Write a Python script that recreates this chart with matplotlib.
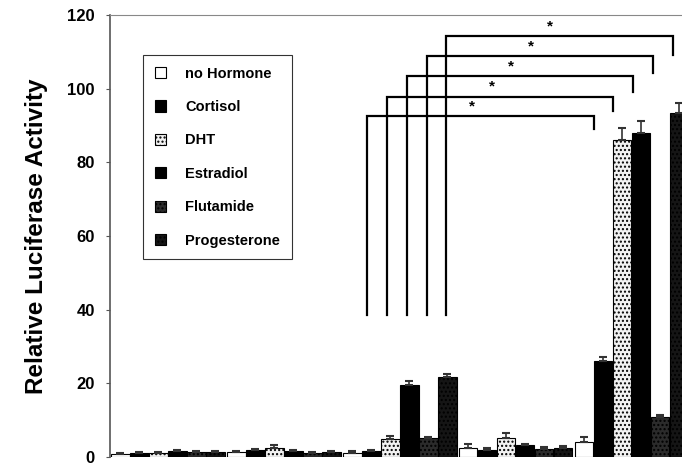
import matplotlib
matplotlib.use("Agg")
import matplotlib.pyplot as plt
import numpy as np

plt.rcParams['font.family'] = ['Liberation Sans', 'DejaVu Sans']

treatments = ["no Hormone", "Cortisol", "DHT", "Estradiol", "Flutamide", "Progesterone"]
# values per group (5 groups), per treatment
values = [
    [0.8, 1.2, 1.1, 1.7, 1.4, 1.3],
    [1.3, 1.9, 2.4, 1.5, 1.2, 1.4],
    [1.2, 1.5, 4.9, 19.5, 5.1, 21.8],
    [2.4, 1.8, 5.1, 3.2, 2.2, 2.5],
    [4.0, 26.1, 86.0, 87.9, 10.8, 93.3],
]
errors = [
    [0.2, 0.2, 0.2, 0.3, 0.2, 0.2],
    [0.3, 0.3, 0.8, 0.3, 0.2, 0.2],
    [0.3, 0.3, 0.7, 1.2, 0.4, 0.8],
    [1.1, 0.6, 1.5, 0.4, 0.6, 0.5],
    [1.3, 1.1, 3.2, 3.2, 0.6, 2.7],
]
# significance brackets: (left x, right x, height, left bottom, right bottom)
br_left = [12.97, 14.02, 15.08, 16.13, 17.13]
br_right = [24.92, 25.92, 26.97, 28.03, 29.08]
br_height = [92.6, 97.8, 103.4, 108.8, 114.2]
br_left_bottom = [38.5, 38.5, 38.5, 38.5, 38.5]
br_right_bottom = [89.0, 94.0, 99.2, 104.3, 109.2]
star_x = [18.5, 19.55, 20.55, 21.6, 22.6]

yticks = [0, 20, 40, 60, 80, 100, 120]

facecolors = ["white", "black", "#f2f2f2", "black", "#2b2b2b", "#151515"]
hatches = [None, None, "....", None, "....", "...."]
hatchcols = ["black", "black", "#888888", "black", "#aaaaaa", "#777777"]

fig = plt.figure(figsize=(6.82, 4.66), dpi=100)
bottom_px = 457
ax = fig.add_axes([110/682, 1-bottom_px/466, 1-110/682, (bottom_px-15)/466])

group_spacing = 6.1
width = 0.97
for j, t in enumerate(treatments):
    xs = [g*group_spacing + j for g in range(len(values))]
    ys = [values[g][j] for g in range(len(values))]
    es = [errors[g][j] for g in range(len(values))]
    plt.rcParams['hatch.color'] = hatchcols[j]
    ax.bar(xs, ys, width=width, color=facecolors[j], edgecolor="black",
           linewidth=0.8, hatch=hatches[j], label=t, zorder=2)
    ax.errorbar(xs, ys, yerr=[np.zeros(len(es)), es], fmt="none", ecolor="#333333",
                elinewidth=1.2, capsize=3, capthick=1.5, zorder=3)

for xl, xr, h, lb, rb, sx in zip(br_left, br_right, br_height, br_left_bottom, br_right_bottom, star_x):
    ax.plot([xl, xl, xr, xr], [lb, h, h, rb], color="black", lw=1.6, zorder=4,
            solid_joinstyle="miter")
    ax.text(sx, h + 0.8, "*", ha="center", va="bottom", fontsize=11,
            fontweight="bold", color="black")

ax.set_xlim(-0.55, 29.55)
ax.set_ylim(0, 120)
ax.set_yticks(yticks)
ax.set_yticklabels([str(v) for v in yticks], fontsize=12, fontweight="bold")
ax.set_xticks([])
ax.tick_params(axis="y", direction="out", length=3, width=0.8, colors="#555555",
               labelcolor="black", pad=8)
for s in ["right", "bottom"]:
    ax.spines[s].set_visible(False)
ax.spines["left"].set_color("#555555")
ax.spines["left"].set_linewidth(1.2)
ax.spines["top"].set_color("#888888")
ax.spines["top"].set_linewidth(0.8)
ax.spines["top"].set_linestyle((0, (6, 1)))

ax.set_ylabel("Relative Luciferase Activity", fontsize=17.5, fontweight="bold", labelpad=14)

leg = ax.legend(loc="upper left", bbox_to_anchor=(33/572, 1-40/442), frameon=True,
                fancybox=False, edgecolor="black", handlelength=0.8,
                handleheight=0.8, labelspacing=1.33, borderpad=0.8, handletextpad=1.3,
                borderaxespad=0, prop={"weight": "bold", "size": 10.5})
leg.get_frame().set_linewidth(0.8)

fig.savefig("out.png", dpi=100)
